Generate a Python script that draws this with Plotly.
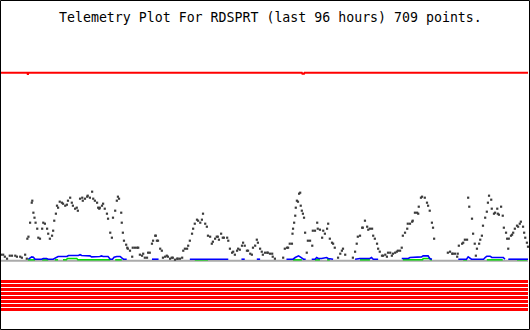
import plotly.graph_objects as go

# ---- data (hours since start of the 96 h window, arbitrary telemetry units) ----
dark_hours = [0.0,0.4,0.7,1.1,1.6,2.0,2.6,2.9,3.5,3.8,4.4,4.7,4.8,5.0,5.3,5.6,5.7,5.9,6.1,6.3,
              6.6,6.8,7.1,7.5,7.7,8.0,8.4,8.6,8.9,9.3,9.5,9.7,10.0,10.2,10.4,10.7,11.1,11.3,11.7,12.0,
              12.2,12.6,12.9,13.1,13.5,13.8,14.0,14.4,14.8,14.9,15.3,15.7,15.8,16.2,16.6,16.8,17.1,17.5,17.7,17.9,
              18.0,18.4,18.6,18.9,19.3,19.5,19.9,20.2,20.4,20.8,21.1,21.3,21.5,21.9,22.0,22.2,22.4,22.8,23.0,23.1,
              23.5,23.9,24.0,24.4,24.8,25.0,25.3,25.7,25.9,26.2,26.6,26.8,27.1,27.5,27.7,28.1,28.2,28.4,28.6,29.0,
              29.3,29.5,29.9,30.2,30.4,30.8,31.1,31.3,31.7,32.1,32.2,32.6,33.0,33.2,33.5,33.9,34.1,34.4,34.8,35.0,
              35.3,35.7,35.9,
              36.3,36.6,36.8,37.2,37.5,37.7,38.1,38.4,38.6,39.0,39.3,39.5,39.7,40.1,40.4,40.6,41.2,41.4,41.7,42.1,
              42.3,42.6,43.0,43.2,43.5,43.9,44.1,44.4,44.8,45.0,45.4,45.7,45.9,46.3,46.6,46.8,47.2,47.5,47.7,48.1,
              48.5,48.6,49.0,49.4,49.5,49.9,51.4,51.7,52.1,52.3,52.6,53.0,53.1,53.2,53.4,53.6,53.7,53.9,54.1,54.3,
              54.5,54.6,54.8,55.0,55.2,55.4,55.7,55.9,56.3,56.7,56.8,57.2,57.6,57.7,58.1,58.5,58.7,59.0,59.4,59.6,
              59.9,60.3,60.5,60.8,61.4,61.8,62.1,62.3,62.7,64.1,64.5,64.8,65.0,65.4,
              65.8,65.9,66.3,66.7,66.9,67.2,67.6,67.8,68.1,68.5,68.7,69.0,69.4,69.6,70.0,70.3,70.5,70.9,71.2,71.4,
              71.8,72.1,72.3,72.7,73.0,73.2,73.6,74.0,74.1,74.5,74.9,75.0,75.4,75.8,76.0,76.1,76.5,76.7,77.2,77.6,
              77.8,78.1,78.5,78.7,78.9,81.4,81.8,82.2,82.3,82.7,83.1,83.2,83.4,84.0,84.2,84.5,84.9,85.1,85.3,85.8,
              86.0,86.3,86.5,86.7,87.1,87.3,87.6,87.8,88.2,88.5,88.7,88.9,89.3,89.4,89.8,90.0,90.4,90.5,90.7,91.1,
              91.4,91.6,92.0,92.2,92.4,92.5,92.9,93.1,93.3,93.6,94.0,94.2,94.5,94.7,95.1,95.3,95.5,95.8,96.0]
dark_values = [6,6,4,2,5,5,5,4,4,3,6,2,22,24,38,58,60,48,43,38,
               32,23,22,32,38,37,32,27,22,25,30,40,47,55,53,59,58,57,55,56,
               60,63,58,55,52,53,50,62,63,60,62,64,65,63,69,62,60,58,53,52,
               53,55,57,52,47,42,28,23,43,50,60,64,62,48,38,28,20,16,13,12,
               10,4,13,13,13,13,6,5,7,3,3,8,8,17,20,25,25,20,20,12,
               10,3,4,5,4,2,3,3,1,2,2,2,3,10,12,12,15,20,27,32,
               37,41,40,
               38,41,47,37,34,25,24,17,19,22,24,24,21,27,23,23,23,20,12,8,
               9,6,10,12,11,15,18,15,10,10,7,6,13,15,21,18,12,9,6,8,
               8,8,7,7,4,2,3,12,13,13,17,17,27,32,38,45,53,60,59,67,
               68,55,50,47,43,28,8,20,20,15,30,30,38,32,31,23,30,27,32,37,
               22,18,17,13,3,7,10,12,6,3,9,17,24,25,
               33,33,40,34,31,32,32,25,22,17,12,9,5,5,6,4,8,8,5,7,
               8,9,10,10,13,25,28,32,37,37,39,40,48,48,47,54,63,64,63,58,
               55,50,38,33,22,8,9,7,7,7,4,7,15,17,18,21,21,63,54,42,
               27,17,5,12,17,21,25,35,43,49,58,65,61,52,47,48,52,47,46,54,
               45,33,28,22,12,22,25,26,28,32,35,34,37,39,34,28,23,18,14]

blue_hours = [5.0,5.6,5.9,6.2,7.4,7.7,8.3,8.6,9.5,9.8,10.1,10.4,12.0,12.3,14.1,14.4,14.7,15.3,15.6,16.2,
              16.5,17.1,17.4,18.0,18.3,18.6,19.5,19.9,20.3,20.6,21.1,21.7,22.0,22.3,22.9,22.9,
              27.5,28.7,28.7,
              34.4,35.3,35.6,37.5,37.8,41.4,41.4,
              43.8,44.4,44.4,
              46.6,47.2,47.2,
              52.0,53.2,53.6,53.9,54.2,54.5,54.8,55.1,55.5,55.5,
              56.6,57.2,57.5,57.8,58.4,59.3,59.6,60.5,60.5,
              64.5,65.4,67.2,67.5,67.8,68.7,68.7,
              73.0,74.2,74.5,75.4,75.7,76.6,76.9,77.8,78.1,78.5,78.5,
              83.3,84.8,85.1,85.4,85.7,86.0,86.9,87.9,88.2,88.5,89.1,89.4,91.5,91.8,91.8,
              92.4,93.9,94.5,94.9,96.0]
blue_values = [1.5,3.8,3.5,1.5,1.5,2.2,2.2,1.5,1.5,2.2,3.2,4.2,4.2,5.2,5.2,6.0,5.2,5.2,4.8,4.8,
               3.8,3.8,4.2,4.2,4.8,4.2,4.2,1.5,1.5,3.5,4.2,4.2,2.8,1.5,1.5,None,
               1.5,1.5,None,
               1.5,1.5,2.2,2.2,1.5,1.5,None,
               1.5,1.5,None,
               1.5,1.5,None,
               1.5,1.5,3.2,4.2,4.8,3.8,2.8,1.5,1.5,None,
               1.5,1.5,3.2,2.2,2.2,3.2,2.2,1.5,None,
               1.5,2.2,2.2,3.2,1.5,1.5,None,
               2.2,2.2,3.2,3.2,3.8,3.8,4.8,4.8,2.2,1.5,None,
               1.5,1.5,3.8,2.5,1.5,1.5,1.5,1.5,3.2,4.5,4.5,3.2,3.2,1.5,None,
               1.5,1.5,2.2,1.5,1.5]

green_hours = [4.9,6.2,6.2, 7.5,8.6,8.6, 9.8,10.4,10.4, 11.3,11.9,12.1,13.8,14.0,19.9,19.9, 20.8,22.0,22.0,
               35.3,37.7,37.7, 53.2,54.8,54.8, 57.2,58.1,58.1, 59.4,59.9,59.9, 65.4,67.2,67.2,
               73.2,76.8,76.9,78.1,78.3,78.5,78.5, 84.2,84.9,84.9, 88.5,91.4,91.4, 94.0,95.8]
green_values = [0.9,0.9,None, 0.9,0.9,None, 0.9,0.9,None, 0.9,0.9,2.2,2.2,0.9,0.9,None, 0.9,0.9,None,
                0.9,0.9,None, 0.9,0.9,None, 0.9,0.9,None, 0.9,0.9,None, 0.9,0.9,None,
                0.9,0.9,2.2,2.2,0.9,0.9,None, 0.9,0.9,None, 0.9,0.9,None, 0.9,0.9]

upper_limit_hours = [0.0, 4.8, 4.9, 5.0, 54.8, 54.9, 55.2, 55.3, 96.0]
upper_limit_values = [188, 188, 186, 188, 188, 187, 187, 188, 188]
lower_limit_levels = [-20.8, -24.8, -28.8, -32.8, -36.8, -40.8, -44.8, -48.8]
window_hours = [0.0, 96.0]
baseline_level = 0.0
title_text = "Telemetry Plot For RDSPRT (last 96 hours) 709 points."

fig = go.Figure()

for lvl in lower_limit_levels:
    fig.add_trace(go.Scatter(x=window_hours, y=[lvl, lvl], mode="lines",
                             line=dict(color="#ff0000", width=3), hoverinfo="skip"))

fig.add_trace(go.Scatter(x=upper_limit_hours, y=upper_limit_values, mode="lines",
                         line=dict(color="#ff0000", width=2), hoverinfo="skip"))

fig.add_trace(go.Scatter(x=window_hours, y=[baseline_level, baseline_level], mode="lines",
                         line=dict(color="#aaaaaa", width=2), hoverinfo="skip"))

fig.add_trace(go.Scatter(x=green_hours, y=green_values, mode="lines",
                         line=dict(color="#00dd00", width=1.5), connectgaps=False, hoverinfo="skip"))

fig.add_trace(go.Scatter(x=blue_hours, y=blue_values, mode="lines",
                         line=dict(color="#0000ff", width=1.6), connectgaps=False, hoverinfo="skip"))

fig.add_trace(go.Scatter(x=dark_hours, y=dark_values, mode="markers",
                         marker=dict(symbol="square", size=2.2, color="#3c3c3c", line=dict(width=0)),
                         hoverinfo="skip"))

fig.add_annotation(text=title_text, xref="paper", yref="paper", x=270.7/530, y=1 - 17.3/330,
                   xanchor="center", yanchor="middle", showarrow=False,
                   font=dict(family="DejaVu Sans Mono", size=13.25, color="#000000"))

fig.add_shape(type="rect", xref="paper", yref="paper",
              x0=0.5/530, x1=529.5/530, y0=0.5/330, y1=329.5/330,
              line=dict(color="#000000", width=1), fillcolor="rgba(0,0,0,0)")

fig.update_layout(
    width=530, height=330,
    margin=dict(l=0, r=0, t=0, b=0),
    paper_bgcolor="#ffffff", plot_bgcolor="#ffffff",
    showlegend=False, hovermode=False,
    xaxis=dict(range=[-0.182, 96.364], visible=False, fixedrange=True),
    yaxis=dict(range=[-69.3, 260.7], visible=False, fixedrange=True),
)

fig.write_html("out.html", config={"displayModeBar": False, "staticPlot": True})
